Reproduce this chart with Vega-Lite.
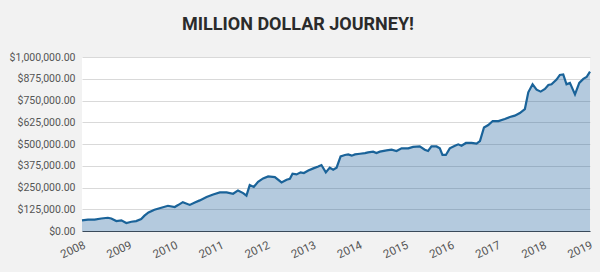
{
  "$schema": "https://vega.github.io/schema/vega-lite/v6.json",
  "autosize": {"type": "none"},
  "width": 508,
  "height": 174,
  "padding": {"left": 82, "top": 57, "right": 10, "bottom": 41},
  "background": "#f2f2f2",
  "title": {
    "text": "MILLION DOLLAR JOURNEY!",
    "font": "Roboto",
    "fontSize": 18,
    "fontWeight": "bold",
    "color": "#2b2b2b",
    "anchor": "middle",
    "dx": -38,
    "offset": 18
  },
  "config": {
    "view": {"fill": "white", "stroke": null},
    "axis": {"labelFont": "Roboto", "labelFontSize": 10.5, "labelColor": "#555555", "titleFont": "Roboto"}
  },
  "data": {
    "values": [
      {"date": "2008-01-01", "value": 61000},
      {"date": "2008-02-17", "value": 65000},
      {"date": "2008-04-10", "value": 65000},
      {"date": "2008-06-01", "value": 72000},
      {"date": "2008-07-24", "value": 76000},
      {"date": "2008-08-20", "value": 72000},
      {"date": "2008-09-29", "value": 57000},
      {"date": "2008-11-08", "value": 61000},
      {"date": "2008-12-17", "value": 46000},
      {"date": "2009-01-26", "value": 53000},
      {"date": "2009-03-05", "value": 57000},
      {"date": "2009-04-14", "value": 69000},
      {"date": "2009-05-10", "value": 88000},
      {"date": "2009-06-11", "value": 107000},
      {"date": "2009-07-28", "value": 122000},
      {"date": "2009-09-20", "value": 134000},
      {"date": "2009-11-12", "value": 145000},
      {"date": "2010-01-05", "value": 138000},
      {"date": "2010-01-31", "value": 149000},
      {"date": "2010-03-10", "value": 166000},
      {"date": "2010-05-04", "value": 150000},
      {"date": "2010-06-13", "value": 164000},
      {"date": "2010-07-22", "value": 176000},
      {"date": "2010-09-14", "value": 195000},
      {"date": "2010-11-05", "value": 210000},
      {"date": "2010-12-28", "value": 222000},
      {"date": "2011-02-20", "value": 222000},
      {"date": "2011-04-12", "value": 214000},
      {"date": "2011-05-21", "value": 233000},
      {"date": "2011-07-01", "value": 218000},
      {"date": "2011-07-27", "value": 203000},
      {"date": "2011-08-22", "value": 264000},
      {"date": "2011-09-23", "value": 253000},
      {"date": "2011-10-27", "value": 283000},
      {"date": "2011-12-06", "value": 302000},
      {"date": "2012-01-15", "value": 314000},
      {"date": "2012-03-08", "value": 310000},
      {"date": "2012-04-30", "value": 279000},
      {"date": "2012-06-09", "value": 295000},
      {"date": "2012-07-05", "value": 300000},
      {"date": "2012-07-26", "value": 329000},
      {"date": "2012-08-27", "value": 325000},
      {"date": "2012-09-28", "value": 337000},
      {"date": "2012-10-24", "value": 333000},
      {"date": "2012-11-28", "value": 348000},
      {"date": "2013-01-07", "value": 360000},
      {"date": "2013-02-15", "value": 371000},
      {"date": "2013-03-12", "value": 379000},
      {"date": "2013-04-16", "value": 337000},
      {"date": "2013-05-17", "value": 364000},
      {"date": "2013-06-13", "value": 352000},
      {"date": "2013-07-10", "value": 364000},
      {"date": "2013-08-11", "value": 429000},
      {"date": "2013-09-14", "value": 437000},
      {"date": "2013-10-10", "value": 440000},
      {"date": "2013-11-07", "value": 433000},
      {"date": "2013-12-03", "value": 440000},
      {"date": "2014-01-12", "value": 444000},
      {"date": "2014-02-20", "value": 448000},
      {"date": "2014-03-17", "value": 452000},
      {"date": "2014-04-26", "value": 456000},
      {"date": "2014-05-22", "value": 448000},
      {"date": "2014-06-18", "value": 456000},
      {"date": "2014-08-10", "value": 463000},
      {"date": "2014-09-19", "value": 467000},
      {"date": "2014-10-28", "value": 460000},
      {"date": "2014-12-07", "value": 475000},
      {"date": "2015-01-29", "value": 475000},
      {"date": "2015-03-08", "value": 483000},
      {"date": "2015-04-30", "value": 486000},
      {"date": "2015-06-09", "value": 467000},
      {"date": "2015-07-05", "value": 460000},
      {"date": "2015-08-01", "value": 486000},
      {"date": "2015-09-10", "value": 486000},
      {"date": "2015-10-06", "value": 475000},
      {"date": "2015-10-27", "value": 437000},
      {"date": "2015-11-23", "value": 437000},
      {"date": "2015-12-24", "value": 475000},
      {"date": "2016-02-03", "value": 490000},
      {"date": "2016-02-29", "value": 498000},
      {"date": "2016-03-26", "value": 490000},
      {"date": "2016-04-30", "value": 506000},
      {"date": "2016-06-14", "value": 506000},
      {"date": "2016-07-23", "value": 502000},
      {"date": "2016-08-19", "value": 517000},
      {"date": "2016-09-20", "value": 595000},
      {"date": "2016-10-24", "value": 609000},
      {"date": "2016-11-28", "value": 632000},
      {"date": "2017-01-12", "value": 632000},
      {"date": "2017-03-04", "value": 644000},
      {"date": "2017-04-13", "value": 655000},
      {"date": "2017-05-22", "value": 663000},
      {"date": "2017-07-01", "value": 678000},
      {"date": "2017-08-10", "value": 701000},
      {"date": "2017-09-06", "value": 797000},
      {"date": "2017-10-10", "value": 843000},
      {"date": "2017-11-11", "value": 812000},
      {"date": "2017-12-13", "value": 801000},
      {"date": "2018-01-16", "value": 816000},
      {"date": "2018-02-12", "value": 839000},
      {"date": "2018-03-09", "value": 843000},
      {"date": "2018-04-18", "value": 870000},
      {"date": "2018-05-14", "value": 897000},
      {"date": "2018-06-10", "value": 900000},
      {"date": "2018-07-06", "value": 843000},
      {"date": "2018-08-02", "value": 851000},
      {"date": "2018-09-11", "value": 785000},
      {"date": "2018-10-15", "value": 851000},
      {"date": "2018-11-16", "value": 874000},
      {"date": "2018-12-12", "value": 885000},
      {"date": "2019-01-08", "value": 916000}
    ]
  },
  "encoding": {
    "x": {
      "field": "date",
      "type": "temporal",
      "title": null,
      "scale": {"nice": false},
      "axis": {
        "format": "%Y",
        "tickCount": {"interval": "year", "step": 1},
        "labelAngle": -25,
        "labelFontSize": 11.5,
        "grid": false,
        "ticks": false,
        "domainColor": "#3a4a5a",
        "domainWidth": 1,
        "labelPadding": 8
      }
    },
    "y": {
      "field": "value",
      "type": "quantitative",
      "title": null,
      "scale": {"domain": [0, 1000000], "nice": false},
      "axis": {
        "values": [0, 125000, 250000, 375000, 500000, 625000, 750000, 875000, 1000000],
        "format": "$,.2f",
        "domain": false,
        "ticks": false,
        "gridColor": "#d9d9d9",
        "labelPadding": 7
      }
    }
  },
  "layer": [
    {"mark": {"type": "area", "color": "#1a5f9a", "opacity": 0.33}},
    {"mark": {"type": "line", "color": "#1a6399", "strokeWidth": 2.2}}
  ]
}
